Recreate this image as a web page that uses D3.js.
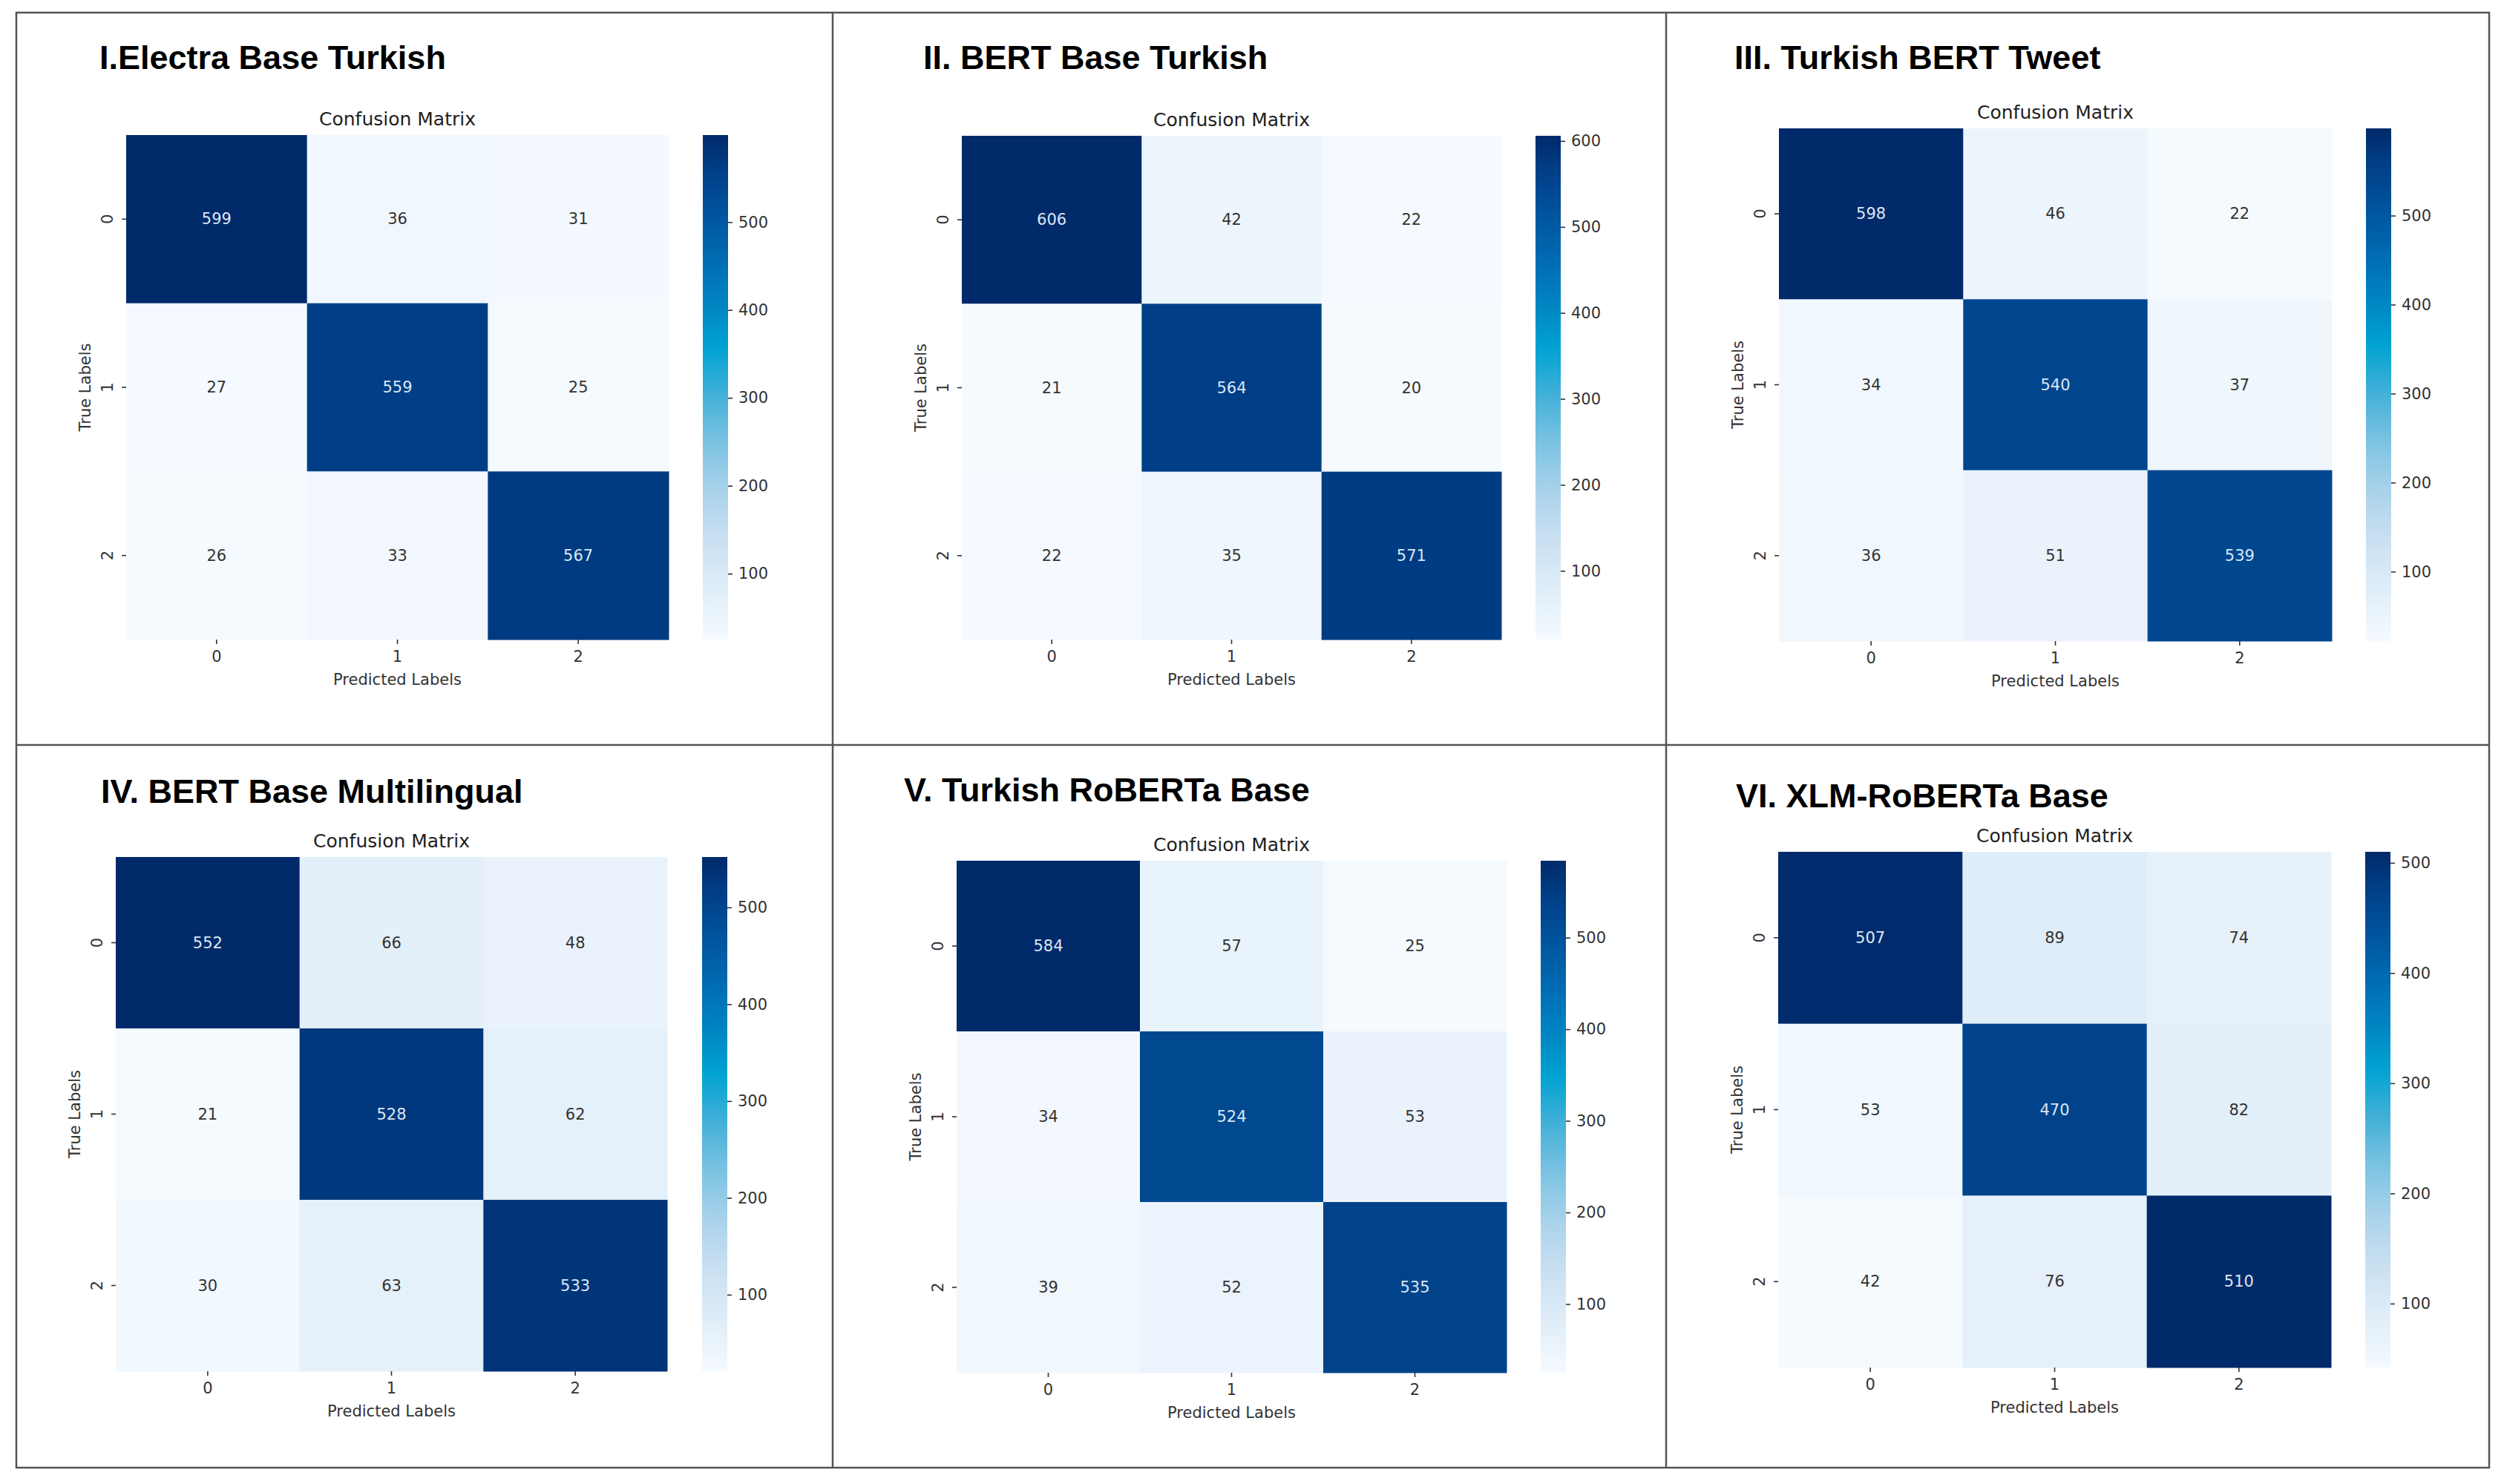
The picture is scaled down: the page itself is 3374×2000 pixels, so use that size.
<!DOCTYPE html>
<html>
<head>
<meta charset="utf-8">
<script src="https://cdn.jsdelivr.net/npm/d3@7"></script>
<style>
  html, body { margin: 0; padding: 0; background: #ffffff; }
  svg { display: block; }
</style>
</head>
<body>
<svg id="chart" width="3374" height="2000"></svg>
<script>
// ---------------- DATA ----------------
const panelTitles = [
  "I.Electra Base Turkish",
  "II. BERT Base Turkish",
  "III. Turkish BERT Tweet",
  "IV. BERT Base Multilingual",
  "V. Turkish RoBERTa Base",
  "VI. XLM-RoBERTa Base"
];
const subplotTitle = "Confusion Matrix";
const xAxisLabel = "Predicted Labels";
const yAxisLabel = "True Labels";
const classLabels = ["0", "1", "2"];
const colorbarTicks = [100, 200, 300, 400, 500, 600];

const matrixI   = [[599, 36, 31], [27, 559, 25], [26, 33, 567]];
const matrixII  = [[606, 42, 22], [21, 564, 20], [22, 35, 571]];
const matrixIII = [[598, 46, 22], [34, 540, 37], [36, 51, 539]];
const matrixIV  = [[552, 66, 48], [21, 528, 62], [30, 63, 533]];
const matrixV   = [[584, 57, 25], [34, 524, 53], [39, 52, 535]];
const matrixVI  = [[507, 89, 74], [53, 470, 82], [42, 76, 510]];
const matrices = [matrixI, matrixII, matrixIII, matrixIV, matrixV, matrixVI];

// ---------------- LAYOUT (positions only) ----------------
const layout = [
  {hx: 170,  hy: 182,  hw: 731, hh: 680, cbx: 947,  tx: 134,  ty: 93},
  {hx: 1296, hy: 183,  hw: 727, hh: 679, cbx: 2069, tx: 1244, ty: 93},
  {hx: 2397, hy: 173,  hw: 745, hh: 691, cbx: 3188, tx: 2337, ty: 93},
  {hx: 156,  hy: 1155, hw: 743, hh: 693, cbx: 946,  tx: 136,  ty: 1082},
  {hx: 1289, hy: 1160, hw: 741, hh: 690, cbx: 2076, tx: 1218, ty: 1080},
  {hx: 2396, hy: 1148, hw: 745, hh: 695, cbx: 3187, tx: 2339, ty: 1088}
];
const cbWidth = 34;

// colour ramp (saturated "Blues" as it appears in the picture)
const rampStops = [
  [0.00, "#f5faff"], [0.13, "#d9e9f6"], [0.22, "#c3ddf0"], [0.30, "#a7d1ea"],
  [0.39, "#7cc3e2"], [0.48, "#46b1d8"], [0.58, "#00a2d2"], [0.65, "#0089c4"],
  [0.74, "#006fb4"], [0.83, "#0057a0"], [0.93, "#003f87"], [1.00, "#002a6a"]
];
const ramp = d3.scaleLinear()
  .domain(rampStops.map(d => d[0]))
  .range(rampStops.map(d => d[1]))
  .interpolate(d3.interpolateRgb)
  .clamp(true);

const FONT = "'DejaVu Sans', sans-serif";
const svg = d3.select("#chart");
const defs = svg.append("defs");

// ---------------- FRAME ----------------
const frame = svg.append("g").attr("stroke", "#555").attr("stroke-width", 2.5).attr("fill", "none");
frame.append("rect").attr("x", 22).attr("y", 17).attr("width", 3354 - 22).attr("height", 1978 - 17);
frame.append("line").attr("x1", 1122).attr("x2", 1122).attr("y1", 17).attr("y2", 1978);
frame.append("line").attr("x1", 2245).attr("x2", 2245).attr("y1", 17).attr("y2", 1978);
frame.append("line").attr("x1", 22).attr("x2", 3354).attr("y1", 1004).attr("y2", 1004);

// ---------------- PANELS ----------------
matrices.forEach((m, p) => {
  const L = layout[p];
  const g = svg.append("g");
  const flat = m.flat();
  const [vmin, vmax] = d3.extent(flat);
  const color = v => ramp((v - vmin) / (vmax - vmin));

  // panel heading
  g.append("text")
    .attr("x", L.tx).attr("y", L.ty)
    .attr("font-family", "'Liberation Sans', Arial, Helvetica, sans-serif")
    .attr("font-weight", "bold").attr("font-size", 45)
    .attr("fill", "#000")
    .text(panelTitles[p]);

  const x = d3.scaleBand().domain(classLabels).range([L.hx, L.hx + L.hw]);
  const y = d3.scaleBand().domain(classLabels).range([L.hy, L.hy + L.hh]);

  // cells
  const cells = [];
  m.forEach((row, i) => row.forEach((v, j) => cells.push({r: classLabels[i], c: classLabels[j], v})));
  g.selectAll("rect.cell").data(cells).join("rect")
    .attr("class", "cell")
    .attr("x", d => x(d.c)).attr("y", d => y(d.r))
    .attr("width", x.bandwidth() + 0.5).attr("height", y.bandwidth() + 0.5)
    .attr("fill", d => color(d.v));

  g.selectAll("text.ann").data(cells).join("text")
    .attr("class", "ann")
    .attr("x", d => x(d.c) + x.bandwidth() / 2)
    .attr("y", d => y(d.r) + y.bandwidth() / 2)
    .attr("text-anchor", "middle").attr("dominant-baseline", "central")
    .attr("font-family", FONT).attr("font-size", 21)
    .attr("fill", d => d3.lab(color(d.v)).l < 55 ? "#dbe7f4" : "#333333")
    .text(d => d.v);

  // subplot title
  g.append("text")
    .attr("x", L.hx + L.hw / 2).attr("y", L.hy - 13)
    .attr("text-anchor", "middle")
    .attr("font-family", FONT).attr("font-size", 25).attr("fill", "#222")
    .text(subplotTitle);

  // x axis
  const xAxis = d3.axisBottom(x).tickSize(6).tickPadding(9);
  const gx = g.append("g").attr("transform", `translate(0,${L.hy + L.hh})`).call(xAxis);
  gx.select(".domain").remove();
  gx.selectAll("line").attr("stroke", "#333").attr("stroke-width", 1.6);
  gx.selectAll("text").attr("font-family", FONT).attr("font-size", 21).attr("fill", "#333");

  g.append("text")
    .attr("x", L.hx + L.hw / 2).attr("y", L.hy + L.hh + 61)
    .attr("text-anchor", "middle")
    .attr("font-family", FONT).attr("font-size", 21).attr("fill", "#333")
    .text(xAxisLabel);

  // y axis (rotated tick labels)
  const yAxis = d3.axisLeft(y).tickSize(6).tickPadding(0);
  const gy = g.append("g").attr("transform", `translate(${L.hx},0)`).call(yAxis);
  gy.select(".domain").remove();
  gy.selectAll("line").attr("stroke", "#333").attr("stroke-width", 1.6);
  gy.selectAll("text")
    .attr("font-family", FONT).attr("font-size", 21).attr("fill", "#333")
    .attr("x", null).attr("dy", null)
    .attr("text-anchor", "middle")
    .attr("transform", "translate(-18,0) rotate(-90)");

  g.append("text")
    .attr("transform", `translate(${L.hx - 48},${L.hy + L.hh / 2}) rotate(-90)`)
    .attr("text-anchor", "middle")
    .attr("font-family", FONT).attr("font-size", 21).attr("fill", "#333")
    .text(yAxisLabel);

  // colorbar
  const gradId = "grad" + p;
  const grad = defs.append("linearGradient").attr("id", gradId)
    .attr("x1", 0).attr("y1", 1).attr("x2", 0).attr("y2", 0);
  d3.range(0, 1.0001, 0.02).forEach(t => {
    grad.append("stop").attr("offset", t).attr("stop-color", ramp(t));
  });
  g.append("rect")
    .attr("x", L.cbx).attr("y", L.hy)
    .attr("width", cbWidth).attr("height", L.hh)
    .attr("fill", `url(#${gradId})`);

  const cbScale = d3.scaleLinear().domain([vmin, vmax]).range([L.hy + L.hh, L.hy]);
  const cbAxis = d3.axisRight(cbScale)
    .tickValues(colorbarTicks.filter(t => t >= vmin && t <= vmax))
    .tickSize(6).tickPadding(8).tickFormat(d3.format("d"));
  const gc = g.append("g").attr("transform", `translate(${L.cbx + cbWidth},0)`).call(cbAxis);
  gc.select(".domain").remove();
  gc.selectAll("line").attr("stroke", "#333").attr("stroke-width", 1.6);
  gc.selectAll("text").attr("font-family", FONT).attr("font-size", 21).attr("fill", "#333");
});
</script>
</body>
</html>
